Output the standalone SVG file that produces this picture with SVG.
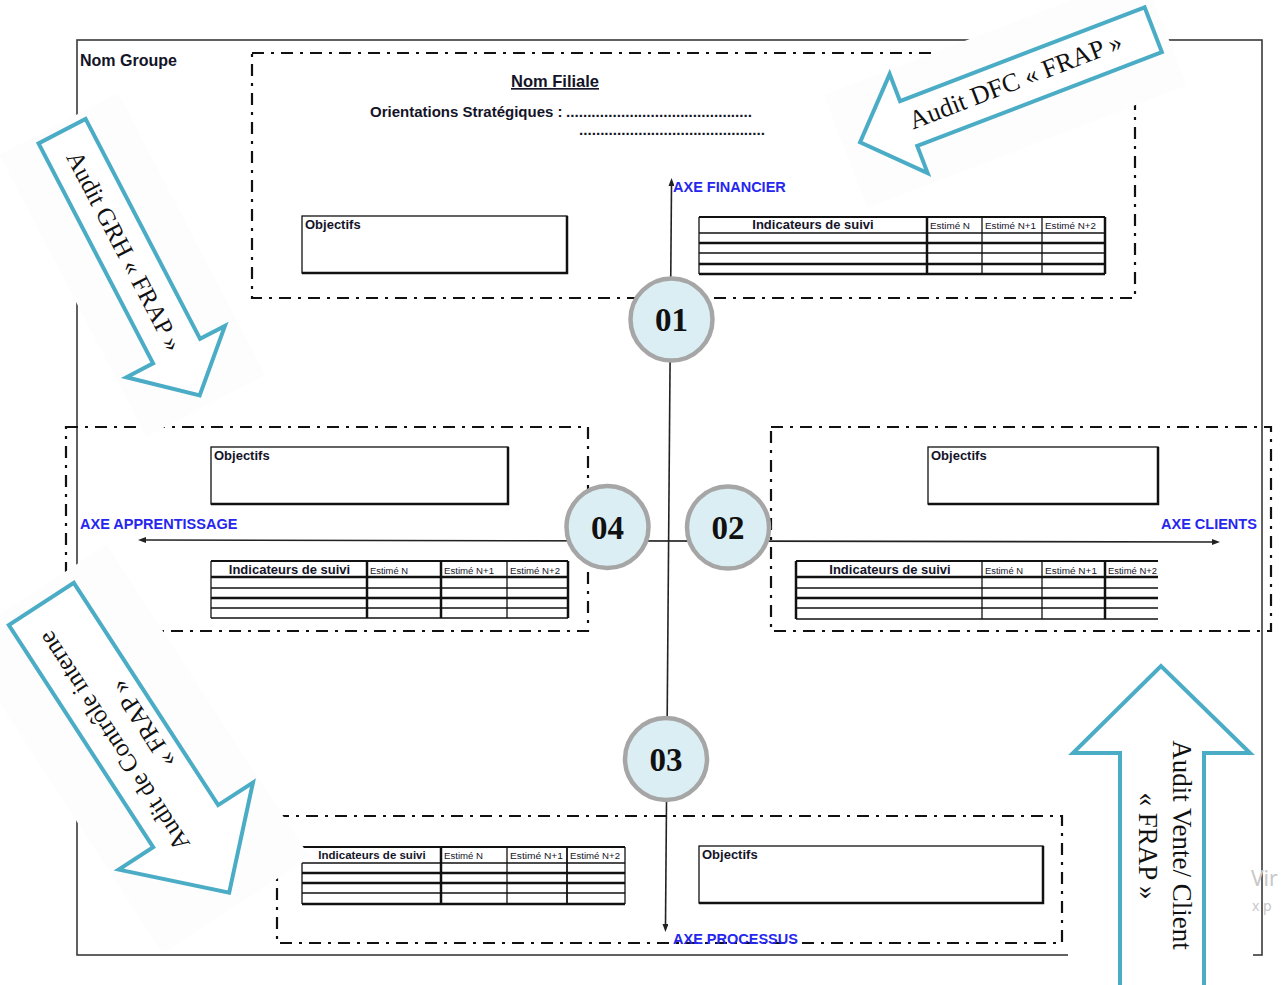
<svg xmlns="http://www.w3.org/2000/svg" width="1285" height="985" viewBox="0 0 1285 985">
<defs>
<style>
.frame{fill:none;stroke:#3a3a3a;stroke-width:1.6}
.dash{fill:none;stroke:#111;stroke-width:2.2;stroke-dasharray:12 7 3 7}
.t1{stroke:#111;stroke-width:1.3;fill:none}
.t15{stroke:#111;stroke-width:1.8;fill:none}
.t2{stroke:#111;stroke-width:2.5;fill:none}
.lbl{font-family:"Liberation Sans",Arial,sans-serif;font-weight:bold;fill:#141428}
.hdr{font-family:"Liberation Sans",Arial,sans-serif;font-weight:bold;fill:#141428;text-anchor:middle}
.est{font-family:"Liberation Sans",Arial,sans-serif;font-size:8.5px;fill:#141428}
.axe{font-family:"Liberation Sans",Arial,sans-serif;font-weight:bold;font-size:14.5px;fill:#2626ee}
.circ{fill:#dbeef4;stroke:#a6a6a6;stroke-width:4.5}
.num{font-family:"Liberation Serif","Times New Roman",serif;font-weight:bold;font-size:33px;text-anchor:middle;fill:#111}
.axis{stroke:#222;stroke-width:1.6;fill:none}
.cbg{fill:#fdfdfd}
.callout{fill:#fff;stroke:#4bacc6;stroke-width:4;stroke-linejoin:miter}
.ctext{font-family:"Liberation Serif","Times New Roman",serif;fill:#111;text-anchor:middle}
.wm{font-family:"Noto Sans","Open Sans",sans-serif;fill:#c8c8c8}
</style>
<marker id="ah" markerUnits="userSpaceOnUse" viewBox="0 0 8 6" markerWidth="8" markerHeight="6" refX="1" refY="3" orient="auto-start-reverse"><path d="M0,0 L8,3 L0,6 z" fill="#222"/></marker>
</defs>
<rect width="1285" height="985" fill="#fff"/>

<g id="frame">
<rect class="frame" x="77" y="40" width="1185" height="915"/>
<text class="lbl" x="80" y="66" font-size="16">Nom Groupe</text>
</g>

<g id="axe-financier">
<rect class="dash" x="252" y="53" width="883" height="245"/>
<text class="hdr" x="555" y="87" font-size="16.5" text-decoration="underline">Nom Filiale</text>
<text class="lbl" x="370" y="117" font-size="15">Orientations Stratégiques :</text>
<text class="lbl" x="566" y="117" font-size="15" textLength="186" lengthAdjust="spacingAndGlyphs">............................................</text>
<text class="lbl" x="579" y="135" font-size="15" textLength="186" lengthAdjust="spacingAndGlyphs">............................................</text>
<rect class="t1" x="302" y="216" width="265" height="57"/>
<polyline class="t2" points="567,216 567,273 302,273"/>
<text class="lbl" x="305" y="228.5" font-size="13">Objectifs</text>
<line class="t15" x1="699" y1="217" x2="1105" y2="217"/>
<line class="t1" x1="699" y1="233" x2="1105" y2="233"/>
<line class="t2" x1="699" y1="243" x2="1105" y2="243"/>
<line class="t1" x1="699" y1="253" x2="1105" y2="253"/>
<line class="t2" x1="699" y1="264" x2="1105" y2="264"/>
<line class="t2" x1="699" y1="274" x2="1105" y2="274"/>
<line class="t1" x1="699" y1="217" x2="699" y2="274"/>
<line class="t2" x1="927" y1="217" x2="927" y2="274"/>
<line class="t1" x1="982" y1="217" x2="982" y2="274"/>
<line class="t1" x1="1042" y1="217" x2="1042" y2="274"/>
<line class="t2" x1="1105" y1="217" x2="1105" y2="274"/>
<text class="hdr" x="813" y="229" font-size="13">Indicateurs de suivi</text>
<text class="est" x="930" y="228.5" textLength="40" lengthAdjust="spacingAndGlyphs">Estimé N</text>
<text class="est" x="985" y="228.5" textLength="51" lengthAdjust="spacingAndGlyphs">Estimé N+1</text>
<text class="est" x="1045" y="228.5" textLength="51" lengthAdjust="spacingAndGlyphs">Estimé N+2</text>
<text class="axe" x="673" y="192">AXE FINANCIER</text>
</g>

<g id="axe-apprentissage">
<rect class="dash" x="66" y="427" width="522" height="204"/>
<rect class="t1" x="211" y="447" width="297" height="57"/>
<polyline class="t2" points="508,447 508,504 211,504"/>
<text class="lbl" x="214" y="459.5" font-size="13">Objectifs</text>
<line class="t15" x1="211" y1="561" x2="568" y2="561"/>
<line class="t2" x1="211" y1="577" x2="568" y2="577"/>
<line class="t1" x1="211" y1="588" x2="568" y2="588"/>
<line class="t2" x1="211" y1="598" x2="568" y2="598"/>
<line class="t1" x1="211" y1="608" x2="568" y2="608"/>
<line class="t1" x1="211" y1="618" x2="568" y2="618"/>
<line class="t1" x1="211" y1="561" x2="211" y2="618"/>
<line class="t2" x1="367" y1="561" x2="367" y2="618"/>
<line class="t2" x1="441" y1="561" x2="441" y2="618"/>
<line class="t1" x1="507" y1="561" x2="507" y2="618"/>
<line class="t2" x1="568" y1="561" x2="568" y2="618"/>
<text class="hdr" x="289.5" y="574" font-size="13">Indicateurs de suivi</text>
<text class="est" x="370" y="574" textLength="38" lengthAdjust="spacingAndGlyphs">Estimé N</text>
<text class="est" x="444" y="574" textLength="50" lengthAdjust="spacingAndGlyphs">Estimé N+1</text>
<text class="est" x="510" y="574" textLength="50" lengthAdjust="spacingAndGlyphs">Estimé N+2</text>
<text class="axe" x="80" y="529">AXE APPRENTISSAGE</text>
</g>

<g id="axe-clients">
<rect class="dash" x="771" y="427" width="500" height="204"/>
<rect class="t1" x="928" y="447" width="230" height="57"/>
<polyline class="t2" points="1158,447 1158,504 928,504"/>
<text class="lbl" x="931" y="459.5" font-size="13">Objectifs</text>
<line class="t15" x1="796" y1="561" x2="1158" y2="561"/>
<line class="t2" x1="796" y1="577" x2="1158" y2="577"/>
<line class="t1" x1="796" y1="588" x2="1158" y2="588"/>
<line class="t2" x1="796" y1="598" x2="1158" y2="598"/>
<line class="t1" x1="796" y1="608" x2="1158" y2="608"/>
<line class="t1" x1="796" y1="619" x2="1158" y2="619"/>
<line class="t2" x1="796" y1="561" x2="796" y2="619"/>
<line class="t1" x1="982" y1="561" x2="982" y2="619"/>
<line class="t1" x1="1042" y1="561" x2="1042" y2="619"/>
<line class="t2" x1="1105" y1="561" x2="1105" y2="619"/>
<text class="hdr" x="890" y="574" font-size="13">Indicateurs de suivi</text>
<text class="est" x="985" y="574" textLength="38" lengthAdjust="spacingAndGlyphs">Estimé N</text>
<text class="est" x="1045" y="574" textLength="52" lengthAdjust="spacingAndGlyphs">Estimé N+1</text>
<text class="est" x="1108" y="574" textLength="49" lengthAdjust="spacingAndGlyphs">Estimé N+2</text>
<text class="axe" x="1161" y="529">AXE CLIENTS</text>
</g>

<g id="axe-processus">
<rect class="dash" x="277" y="816" width="785" height="127"/>
<line class="t15" x1="302" y1="847" x2="625" y2="847"/>
<line class="t1" x1="302" y1="863" x2="625" y2="863"/>
<line class="t2" x1="302" y1="873" x2="625" y2="873"/>
<line class="t2" x1="302" y1="883" x2="625" y2="883"/>
<line class="t1" x1="302" y1="893" x2="625" y2="893"/>
<line class="t2" x1="302" y1="904" x2="625" y2="904"/>
<line class="t1" x1="302" y1="847" x2="302" y2="904"/>
<line class="t2" x1="441" y1="847" x2="441" y2="904"/>
<line class="t1" x1="507" y1="847" x2="507" y2="904"/>
<line class="t15" x1="567" y1="847" x2="567" y2="904"/>
<line class="t1" x1="625" y1="847" x2="625" y2="904"/>
<text class="hdr" x="372" y="859" font-size="11.5">Indicateurs de suivi</text>
<text class="est" x="444" y="859" font-size="8" textLength="39" lengthAdjust="spacingAndGlyphs">Estimé N</text>
<text class="est" x="510" y="859" font-size="8" textLength="53" lengthAdjust="spacingAndGlyphs">Estimé N+1</text>
<text class="est" x="570" y="859" font-size="8" textLength="50" lengthAdjust="spacingAndGlyphs">Estimé N+2</text>
<rect class="t1" x="699" y="846" width="344" height="57"/>
<polyline class="t2" points="1043,846 1043,903 699,903"/>
<text class="lbl" x="702" y="859" font-size="13">Objectifs</text>
<text class="axe" x="673" y="944">AXE PROCESSUS</text>
</g>

<g id="connectors">
<line class="axis" x1="671.5" y1="185" x2="665.5" y2="925" marker-start="url(#ah)" marker-end="url(#ah)"/>
<line class="axis" x1="145" y1="540" x2="1213" y2="542" marker-start="url(#ah)" marker-end="url(#ah)"/>
</g>

<g id="node-01"><circle class="circ" cx="671.5" cy="319.5" r="41"/><text class="num" x="671.5" y="331">01</text></g>
<g id="node-02"><circle class="circ" cx="728" cy="527.5" r="41"/><text class="num" x="728" y="539">02</text></g>
<g id="node-03"><circle class="circ" cx="666" cy="759" r="41"/><text class="num" x="666" y="770.5">03</text></g>
<g id="node-04"><circle class="circ" cx="607.5" cy="527" r="41"/><text class="num" x="607.5" y="538.5">04</text></g>

<g id="audit-dfc" transform="rotate(-21)">
<rect class="cbg" x="735" y="384" width="342" height="121"/>
<polygon class="callout" points="1066,417 804,417 804,388 752,441 804,494 804,465 1066,465"/>
<text class="ctext" x="919" y="448" font-size="26">Audit DFC « FRAP »</text>
</g>

<g id="audit-grh" transform="rotate(62.5)">
<rect class="cbg" x="137" y="-62" width="318" height="134"/>
<polygon class="callout" points="145,-21 393,-21 393,-49 443,5.5 393,62 393,32 145,32"/>
<text class="ctext" x="280" y="14" font-size="25">Audit GRH « FRAP »</text>
</g>

<g id="audit-controle" transform="rotate(57)">
<rect class="cbg" x="515" y="207" width="373" height="176"/>
<polygon class="callout" points="529,255.5 794,255.5 794,214 873.5,294 794,374 794,333 529,333"/>
<g transform="rotate(180 684 294)">
<text class="ctext" x="684.5" y="288" font-size="25">Audit de Contrôle interne</text>
<text class="ctext" x="683" y="322" font-size="25">« FRAP »</text>
</g>
</g>

<g id="audit-vente">
<rect x="1068" y="660" width="185" height="325" fill="#fff"/>
<polygon class="callout" points="1120,992 1120,753 1073,753 1161,666 1250,753 1204,753 1204,992"/>
<text class="ctext" transform="translate(1173,845) rotate(90)" font-size="27">Audit Vente/ Client</text>
<text class="ctext" transform="translate(1139,846) rotate(90)" font-size="27">« FRAP »</text>
</g>

<g id="watermark">
<text class="wm" x="1251" y="886" font-size="21">Vir</text>
<text class="wm" x="1252" y="911" font-size="14">x p</text>
</g>
</svg>
